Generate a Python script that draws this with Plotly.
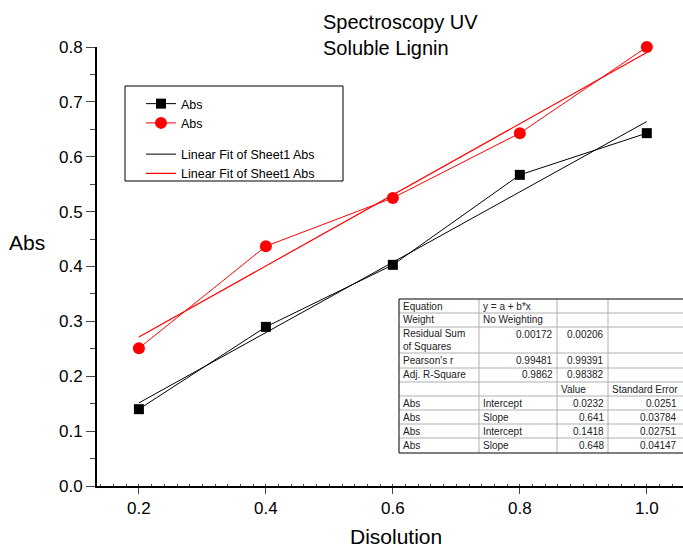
import plotly.graph_objects as go

# ---- data ----
x_vals = [0.2, 0.4, 0.6, 0.8, 1.0]
abs_black = [0.140, 0.290, 0.403, 0.567, 0.643]
abs_red = [0.251, 0.437, 0.525, 0.643, 0.800]
fit_black = {"intercept": 0.0232, "slope": 0.641}
fit_red = {"intercept": 0.1418, "slope": 0.648}
fit_x = [0.2, 1.0]

table_rows = [
    ["Equation", "y = a + b*x", "", ""],
    ["Weight", "No Weighting", "", ""],
    ["Residual Sum<br>of Squares", "0.00172", "0.00206", ""],
    ["Pearson's r", "0.99481", "0.99391", ""],
    ["Adj. R-Square", "0.9862", "0.98382", ""],
    ["", "", "Value", "Standard Error"],
    ["Abs", "Intercept", "0.0232", "0.0251"],
    ["Abs", "Slope", "0.641", "0.03784"],
    ["Abs", "Intercept", "0.1418", "0.02751"],
    ["Abs", "Slope", "0.648", "0.04147"],
]

title_text = "Spectroscopy UV<br>Soluble Lignin"
x_title = "Disolution"
y_title = "Abs"

# ---- layout geometry (page pixels; body margin removed via post_script) ----
W, H = 683, 547
P_L, P_R, P_T, P_B = 97, 683, 47, 486   # plot area in page pixels
ML, MT = P_L, P_T
MR = W - P_R
MB = H - P_B
PW, PH = P_R - P_L, P_B - P_T


def px(xp):
    return (xp - P_L) / PW


def py(yp):
    return (P_B - yp) / PH


FONT = "Liberation Sans, Arial, sans-serif"

fig = go.Figure()

fig.add_trace(go.Scatter(
    x=x_vals, y=abs_black, mode="lines+markers", name="Abs",
    line=dict(color="black", width=1),
    marker=dict(symbol="square", size=10, color="black"),
    legendgroup="data", cliponaxis=False))
fig.add_trace(go.Scatter(
    x=x_vals, y=abs_red, mode="lines+markers", name="Abs",
    line=dict(color="red", width=1),
    marker=dict(symbol="circle", size=12, color="red"),
    legendgroup="data", cliponaxis=False))

fb = [fit_black["intercept"] + fit_black["slope"] * v for v in fit_x]
fr = [fit_red["intercept"] + fit_red["slope"] * v for v in fit_x]
fig.add_trace(go.Scatter(
    x=fit_x, y=fb, mode="lines", name="Linear Fit of Sheet1 Abs",
    line=dict(color="black", width=1), legendgroup="fit"))
fig.add_trace(go.Scatter(
    x=fit_x, y=fr, mode="lines", name="Linear Fit of Sheet1 Abs",
    line=dict(color="#ff0000", width=1.2), legendgroup="fit"))

shapes = []
annotations = []

# legend box
shapes.append(dict(type="rect", xref="paper", yref="paper",
                   x0=px(125), x1=px(343), y0=py(181), y1=py(86),
                   line=dict(color="black", width=1), fillcolor="rgba(0,0,0,0)",
                   layer="below"))

# table
col_edges = [399, 479, 557, 608, 690]
row_edges = [299, 313, 327, 353, 368, 382, 396, 410, 424, 438, 453]
shapes.append(dict(type="rect", xref="paper", yref="paper",
                   x0=px(col_edges[0]), x1=px(col_edges[-1]),
                   y0=py(row_edges[-1]), y1=py(row_edges[0]),
                   line=dict(width=0), fillcolor="white", layer="above"))
for xe in col_edges[1:-1]:
    shapes.append(dict(type="line", xref="paper", yref="paper",
                       x0=px(xe), x1=px(xe), y0=py(row_edges[-1]), y1=py(row_edges[0]),
                       line=dict(color="#b0b0b0", width=1), layer="above"))
for ye in row_edges[1:-1]:
    shapes.append(dict(type="line", xref="paper", yref="paper",
                       x0=px(col_edges[0]), x1=px(col_edges[-1]), y0=py(ye), y1=py(ye),
                       line=dict(color="#b0b0b0", width=1), layer="above"))
shapes.append(dict(type="rect", xref="paper", yref="paper",
                   x0=px(col_edges[0]), x1=px(col_edges[-1]),
                   y0=py(row_edges[-1]), y1=py(row_edges[0]),
                   line=dict(color="black", width=1), fillcolor="rgba(0,0,0,0)",
                   layer="above"))


def is_num(s):
    try:
        float(s)
        return True
    except ValueError:
        return False


for ri, row in enumerate(table_rows):
    top, bot = row_edges[ri], row_edges[ri + 1]
    multi = (bot - top) > 20
    for ci, txt in enumerate(row):
        if not txt:
            continue
        left, right = col_edges[ci], col_edges[ci + 1]
        if ci == 3:
            right = 681
        num = is_num(txt)
        if num:
            xa, xx = "right", right - 2
        else:
            xa, xx = "left", left + 2
        if multi and num:
            ya, yy = "top", top
        else:
            ya, yy = "middle", (top + bot) / 2
        annotations.append(dict(
            text=txt, xref="paper", yref="paper", x=px(xx), y=py(yy),
            xanchor=xa, yanchor=ya, showarrow=False, align="left",
            font=dict(family=FONT, size=10, color="#222"),
        ))

# title
annotations.append(dict(text=title_text, xref="paper", yref="paper",
                        x=px(321), y=py(9), xanchor="left", yanchor="top",
                        showarrow=False, align="left",
                        font=dict(family=FONT, size=20, color="black")))
# y-axis title
annotations.append(dict(text=y_title, xref="paper", yref="paper",
                        x=px(7), y=py(242), xanchor="left", yanchor="middle",
                        showarrow=False, font=dict(family=FONT, size=21, color="black")))
# x-axis title
annotations.append(dict(text=x_title, xref="paper", yref="paper",
                        x=px(396), y=py(536), xanchor="center", yanchor="middle",
                        showarrow=False, font=dict(family=FONT, size=21, color="black")))

fig.update_layout(
    width=W, height=H,
    margin=dict(l=ML, r=MR, t=MT, b=MB),
    paper_bgcolor="white", plot_bgcolor="white",
    font=dict(family=FONT, size=17, color="black"),
    showlegend=True,
    legend=dict(x=px(141), y=py(89), xanchor="left", yanchor="top",
                bgcolor="rgba(0,0,0,0)", borderwidth=0,
                font=dict(family=FONT, size=12.5, color="black"),
                tracegroupgap=12, traceorder="grouped"),
    shapes=shapes, annotations=annotations,
    xaxis=dict(range=[0.134, 1.057], tickvals=[0.2, 0.4, 0.6, 0.8, 1.0],
               tickformat=".1f", ticks="outside", ticklen=6, tickwidth=1,
               showline=True, linecolor="black", linewidth=2,
               showgrid=False, zeroline=False,
               minor=dict(dtick=0.02, tick0=0.0, ticks="inside", ticklen=2,
                          tickcolor="#444", showgrid=False)),
    yaxis=dict(range=[0, 0.8], dtick=0.1, tick0=0, tickformat=".1f",
               ticks="outside", ticklen=9, tickwidth=1,
               showline=True, linecolor="black", linewidth=2,
               showgrid=False, zeroline=False,
               minor=dict(dtick=0.05, ticks="outside", ticklen=5, showgrid=False)),
)

fig.write_html("out.html",
               config={"displayModeBar": False},
               post_script="document.body.style.margin='0';document.body.style.overflow='hidden';")
